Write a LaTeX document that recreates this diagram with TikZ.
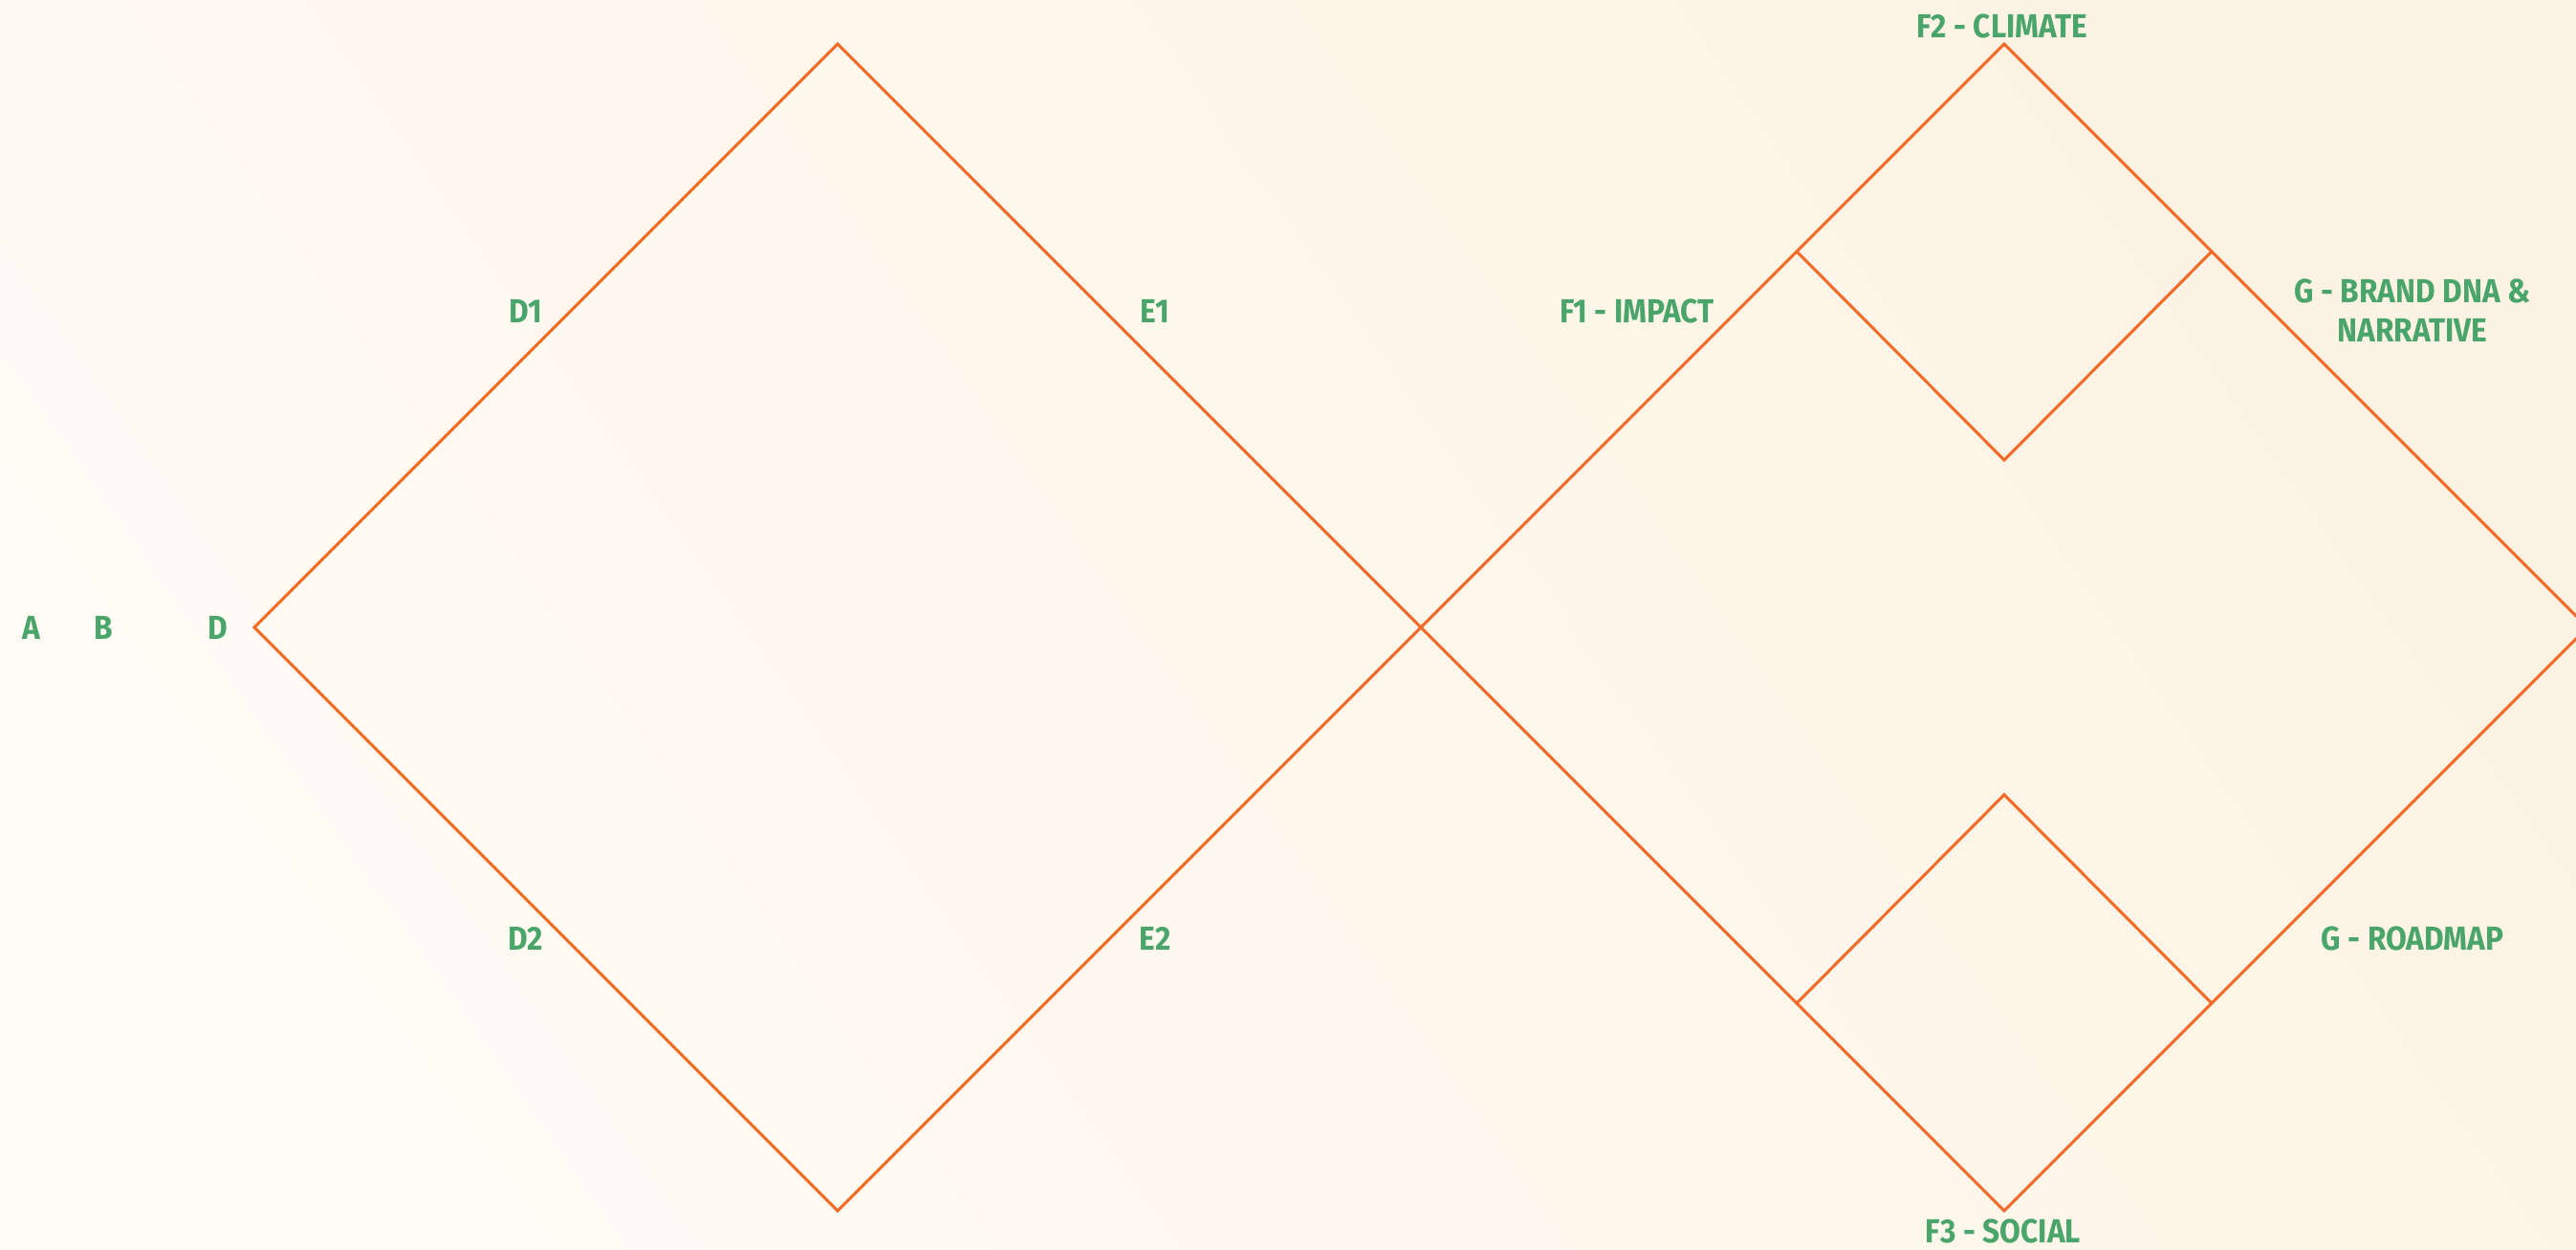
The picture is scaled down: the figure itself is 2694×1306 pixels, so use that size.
\documentclass[tikz,border=0pt]{standalone}
\usepackage{fontspec}
\setmainfont{Fira Sans}[UprightFont=* Bold,FakeStretch=0.91]
\usepackage{tikz}
\usetikzlibrary{positioning,calc}
\definecolor{StageGreen}{HTML}{4AA56A}
\definecolor{StageOrange}{HTML}{F26A25}
\definecolor{PaperLeft}{HTML}{FFFCF5}
\definecolor{PaperRight}{HTML}{FDF3E4}
\tikzset{
  stagelabel/.style={text=StageGreen,font=\fontsize{9.9}{11.7}\selectfont,inner sep=0pt,align=center},
  stageline/.style={StageOrange,line width=0.85pt,line join=miter}
}

\begin{document}
\begin{tikzpicture}[x=0.01cm,y=-0.01cm]
\useasboundingbox (0,0) rectangle (2694,1306);
\shade[left color=PaperLeft,right color=PaperRight,shading angle=125] (0,0) rectangle (2694,1306);
% corners of the two large diamonds
\coordinate (lw) at (266,656); \coordinate (ln) at (876,46);
\coordinate (mid) at (1486,656); \coordinate (ls) at (876,1266);
\coordinate (rn) at (2096,46); \coordinate (re) at (2706,656);
\coordinate (rs) at (2096,1266);
% corners of the two small diamonds
\coordinate (tw) at (1879,263); \coordinate (te) at (2313,263);
\coordinate (tc) at (2096,481);
\coordinate (bw) at (1879,1049); \coordinate (be) at (2313,1049);
\coordinate (bc) at (2096,831);
\draw[stageline] (lw)--(ln)--(mid)--(ls)--cycle;
\draw[stageline] (mid)--(rn)--(re)--(rs)--cycle;
\draw[stageline] (tw)--(tc)--(te);
\draw[stageline] (bw)--(bc)--(be);
% labels
\node[stagelabel] (a) at (33,656) {A};
\node[stagelabel] (b) at (108,656) {B};
\node[stagelabel] (d) at (228,656) {D};
\node[stagelabel] (d1) at (550,325) {D1};
\node[stagelabel] (e1) at (1208,325) {E1};
\node[stagelabel] (d2) at (550,981) {D2};
\node[stagelabel] (e2) at (1208,981) {E2};
\node[stagelabel] (f1) at (1712,325) {F1 - IMPACT};
\node[stagelabel] (f2) at (2094,27) {F2 - CLIMATE};
\node[stagelabel] (f3) at (2095,1287) {F3 - SOCIAL};
\node[stagelabel] (gb) at (2523,325) {G - BRAND DNA \&\\NARRATIVE};
\node[stagelabel] (gr) at (2523,981) {G - ROADMAP};
\end{tikzpicture}
\end{document}
